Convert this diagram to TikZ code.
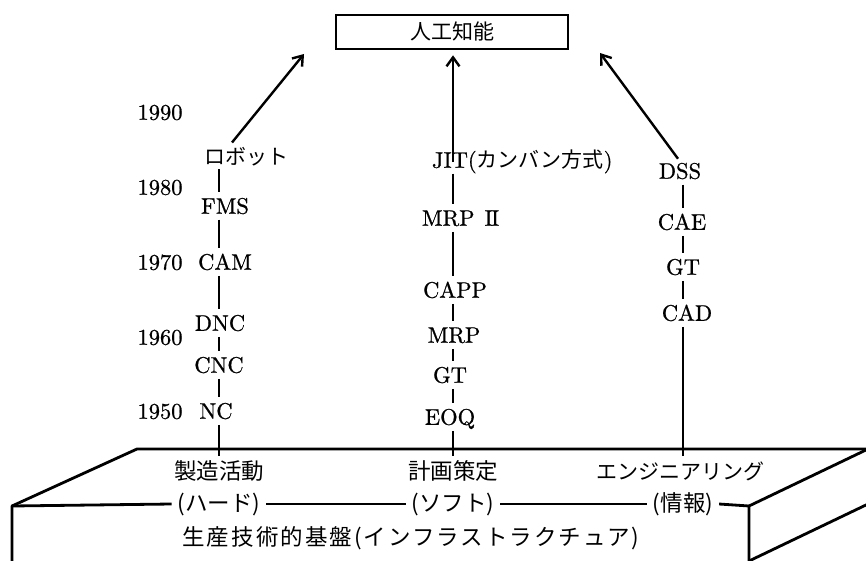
\documentclass[tikz,border=0pt]{standalone}
\usepackage{fontspec}
\newfontfamily\cjk{Noto Sans CJK JP}
\newfontfamily\cjkwide{Noto Sans CJK JP}[LetterSpace=9]
\newfontfamily\latf{lmroman10-regular}[Extension=.otf, FakeBold=0.8]
\usetikzlibrary{arrows.meta}
\begin{document}
\begin{tikzpicture}[x=1pt,y=-1pt,
  lat/.style={inner sep=0pt, outer sep=0pt, text height=15.5pt, text depth=0pt, font=\latf\fontsize{22.5}{27}\selectfont},
  jp/.style={inner sep=0pt, outer sep=0pt, text height=18pt, text depth=3pt, font=\cjk\fontsize{21}{25}\selectfont},
  jpb/.style={jp, font=\cjk\fontsize{22.5}{26}\selectfont},
  conn/.style={line width=2.2pt, shorten <=6pt, shorten >=6pt},
  arr/.style={line width=2.4pt, -{Straight Barb[length=9pt,width=13pt]}},
  slab/.style={line width=2.8pt},
  lab/.style={jpb, outer sep=6pt}
]
\path[use as bounding box] (0,0) rectangle (866,561);
\clip (0,0) rectangle (866,561);

% top box
\node[draw, line width=2.6pt, minimum width=232pt, minimum height=34pt, inner sep=0pt,
      font=\cjk\fontsize{21}{25}\selectfont] (ai) at (452,32) {人工知能};

% column reference coordinates
\coordinate (c1) at (219,0);
\coordinate (c2) at (453,0);
\coordinate (c3) at (683,0);
\coordinate (tL) at (304,54);
\coordinate (tR) at (600,53);

% years
\node[lat] (y1990) at (160,112) {1990};
\node[lat] (y1980) at (160,187) {1980};
\node[lat] (y1970) at (160,262) {1970};
\node[lat] (y1960) at (160,337) {1960};
\node[lat] (y1950) at (160,411) {1950};

% left column
\node[jp] (robot) at (246,157) {ロボット};
\node[lat] (fms) at (225,206) {FMS};
\node[lat] (cam) at (225,262) {CAM};
\node[lat] (dnc) at (220,323) {DNC};
\node[lat] (cnc) at (219,365) {CNC};
\node[lat] (nc) at (216,411) {NC};

% middle column
\node[lat, anchor=west] (jit) at (432,160) {JIT({\cjk\fontsize{21}{25}\selectfont カンバン方式})};
\node[lat, anchor=west] (mrp2) at (422,218) {MRP\hspace{10pt}I\kern-1.6pt I};
\node[lat] (capp) at (455,290) {CAPP};
\node[lat] (mrp) at (454,335) {MRP};
\node[lat] (gt1) at (450,375) {GT};
\node[lat] (eoq) at (450,417) {EOQ};

% right column
\node[lat] (dss) at (680,171) {DSS};
\node[lat] (cae) at (682,222) {CAE};
\node[lat] (gt2) at (683,267) {GT};
\node[lat] (cad) at (687,313) {CAD};

% slab labels
\node[jpb] (mfg) at (219,472) {製造活動};
\node[lab] (hard) at (219,504) {(ハード)};
\node[jpb] (plan) at (453,472) {計画策定};
\node[lab] (soft) at (453,504) {(ソフト)};
\node[jp] (eng) at (680,472) {エンジニアリング};
\node[lab] (info) at (683,504) {(情報)};
\node[jp, font=\cjkwide\fontsize{22.5}{28}\selectfont] (base) at (411,538) {生産技術的基盤(インフラストラクチュア)};

% left column connectors
\draw[conn, shorten <=2pt] (robot.south -| c1) -- (fms.north -| c1);
\draw[conn] (fms.south -| c1) -- (cam.north -| c1);
\draw[conn] (cam.south -| c1) -- (dnc.north -| c1);
\draw[conn] (dnc.south -| c1) -- (cnc.north -| c1);
\draw[conn] (cnc.south -| c1) -- (nc.north -| c1);
\draw[conn] (nc.south -| c1) -- (mfg.north -| c1);

% middle column connectors
\draw[conn] (jit.south -| c2) -- (mrp2.north -| c2);
\draw[conn] (mrp2.south -| c2) -- (capp.north -| c2);
\draw[conn] (capp.south -| c2) -- (mrp.north -| c2);
\draw[conn] (mrp.south -| c2) -- (gt1.north -| c2);
\draw[conn] (gt1.south -| c2) -- (eoq.north -| c2);
\draw[conn] (eoq.south -| c2) -- (plan.north -| c2);

% right column connectors
\draw[conn] (dss.south -| c3) -- (cae.north -| c3);
\draw[conn] (cae.south -| c3) -- (gt2.north -| c3);
\draw[conn] (gt2.south -| c3) -- (cad.north -| c3);
\draw[conn] (cad.south -| c3) -- (eng.north -| c3);

% arrows to AI
\draw[arr] ([xshift=-14pt,yshift=4pt]robot.north) -- (tL);
\draw[arr, shorten <=-10pt, shorten >=5pt] (jit.north -| c2) -- (ai.south -| c2);
\draw[arr] ([xshift=-2pt,yshift=4.5pt]dss.north) -- (tR);

% slab
\coordinate (fl) at (12,506);
\coordinate (fr) at (749,506);
\coordinate (bl) at (137,449);
\coordinate (br) at (866,449);
\draw[slab, line join=round] (12,561) -- (fl) -- (bl) -- (br);
\draw[slab, line join=round] (749,561) -- (fr) -- (868,449);
\draw[slab] (749,561) -- (868,504);
\draw[slab] (fl) -- (hard.west);
\draw[slab] (hard.east) -- (soft.west);
\draw[slab] (soft.east) -- (info.west);
\draw[slab] (info.east) -- (fr);
\end{tikzpicture}
\end{document}
